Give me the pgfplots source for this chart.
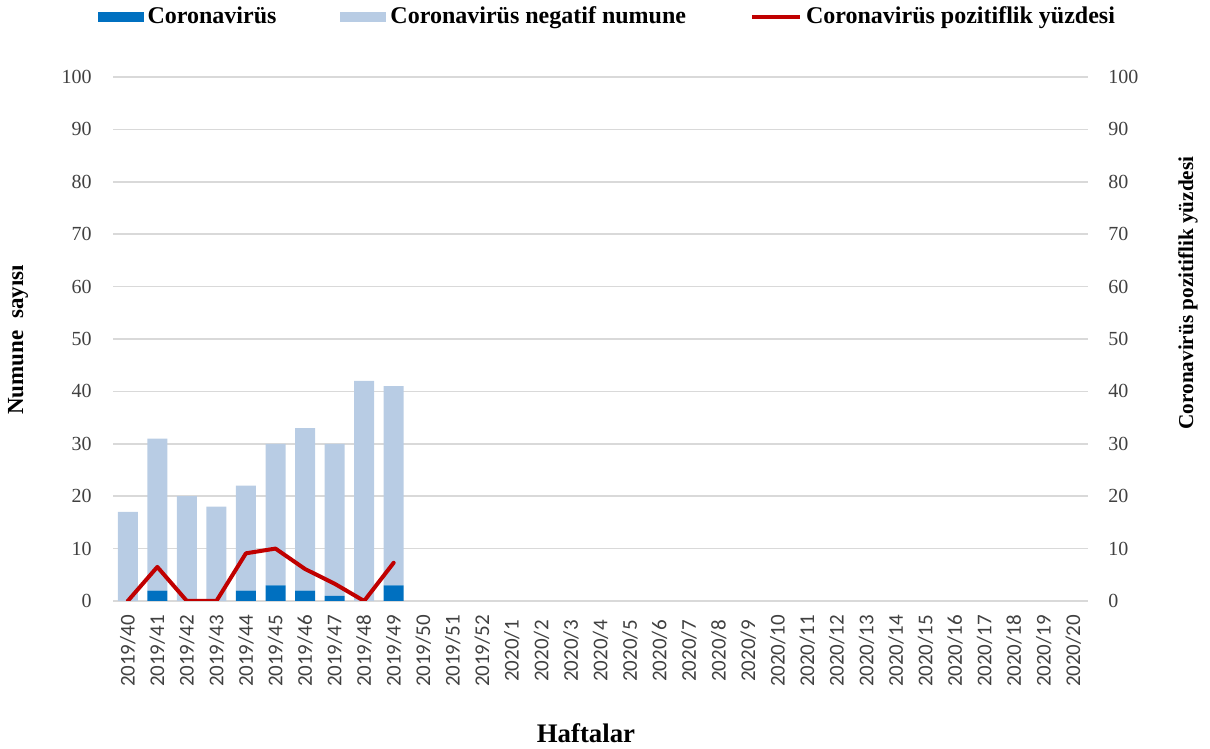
\documentclass[border=0pt]{standalone}
\usepackage{fontspec}
\setmainfont{Liberation Serif}
\newfontfamily\calibri{Carlito}
\usepackage{pgfplots}
\usepackage{pgfplotstable}
\pgfplotsset{compat=1.18}
\definecolor{posblue}{RGB}{0,112,192}
\definecolor{negblue}{RGB}{184,204,228}
\definecolor{posred}{RGB}{192,0,0}
\definecolor{gridgray}{RGB}{217,217,217}
\definecolor{ticktext}{RGB}{64,64,64}

% weeks 2019/40 .. 2019/49: positives, negatives, positivity (%)
\pgfplotstableread{
wk pos neg pct
0 0 17 0
1 2 29 6.5
2 0 20 0
3 0 18 0
4 2 20 9.1
5 3 27 10
6 2 31 6.1
7 1 29 3.3
8 0 42 0
9 3 38 7.3
}\weeks

\pgfplotsset{
common/.style={
	at={(56.5pt,74pt)}, anchor=south west,
	width=487.5pt, height=262pt, scale only axis,
	xmin=-0.5, xmax=32.5, ymin=0, ymax=100,
	ytick={0,10,...,100},
	major tick length=0pt,
	axis line style={draw=none},
	/pgf/number format/assume math mode=true,
	yticklabel style={font=\fontsize{10}{12}\selectfont, text=ticktext, inner sep=0pt},
},
}

\begin{document}
\begin{tikzpicture}
\useasboundingbox (0,0) rectangle (605pt,374.5pt);
\begin{axis}[common,
	ybar stacked, bar width=10pt,
	ymajorgrids, grid style={gridgray, line width=0.75pt},
	yticklabel style={anchor=east, xshift=-10.5pt},
	xtick={0,...,32},
	xticklabels={2019/40,2019/41,2019/42,2019/43,2019/44,2019/45,2019/46,2019/47,2019/48,2019/49,2019/50,2019/51,2019/52,
		2020/1,2020/2,2020/3,2020/4,2020/5,2020/6,2020/7,2020/8,2020/9,2020/10,2020/11,2020/12,2020/13,2020/14,2020/15,2020/16,2020/17,2020/18,2020/19,2020/20},
	xticklabel style={rotate=90, anchor=center, inner sep=0pt, xshift=-25pt,
		font=\calibri\fontsize{10.5}{12}\selectfont, text=ticktext},
	legend columns=3,
	legend cell align=left,
	legend style={draw=none, fill=none, at={(0.508,1.1145)}, anchor=center,
		font=\bfseries\fontsize{12}{14}\selectfont,
		/tikz/every even column/.append style={column sep=30pt}},
	]
\addplot[fill=posblue, draw=none,
	legend image code/.code={\fill[posblue] (0pt,-2.5pt) rectangle (23pt,2.5pt);}]
	table[x=wk, y=pos] {\weeks};
\addlegendentry{Coronavirüs}
\addplot[fill=negblue, draw=none,
	legend image code/.code={\fill[negblue] (0pt,-2.5pt) rectangle (23pt,2.5pt);}]
	table[x=wk, y=neg] {\weeks};
\addlegendentry{Coronavirüs negatif numune}
\addlegendimage{legend image code/.code={\draw[posred, line width=2pt] (0pt,0pt) -- (24pt,0pt);}}
\addlegendentry{Coronavirüs pozitiflik yüzdesi}
\end{axis}

\begin{axis}[common,
	hide x axis,
	axis y line*=right,
	yticklabel style={anchor=west, xshift=10pt},
	]
\addplot[posred, line width=2pt, line join=round, line cap=round] table[x=wk, y=pct] {\weeks};
\end{axis}

\node[rotate=90, font=\bfseries\fontsize{11.5}{14}\selectfont] at (9pt,204.5pt) {Numune\ \ sayısı};
\node[rotate=90, font=\bfseries\fontsize{10.6}{13}\selectfont] at (594pt,228pt) {Coronavirüs pozitiflik yüzdesi};
\node[font=\bfseries\fontsize{13.4}{16}\selectfont] at (293pt,8pt) {Haftalar};
\end{tikzpicture}
\end{document}
